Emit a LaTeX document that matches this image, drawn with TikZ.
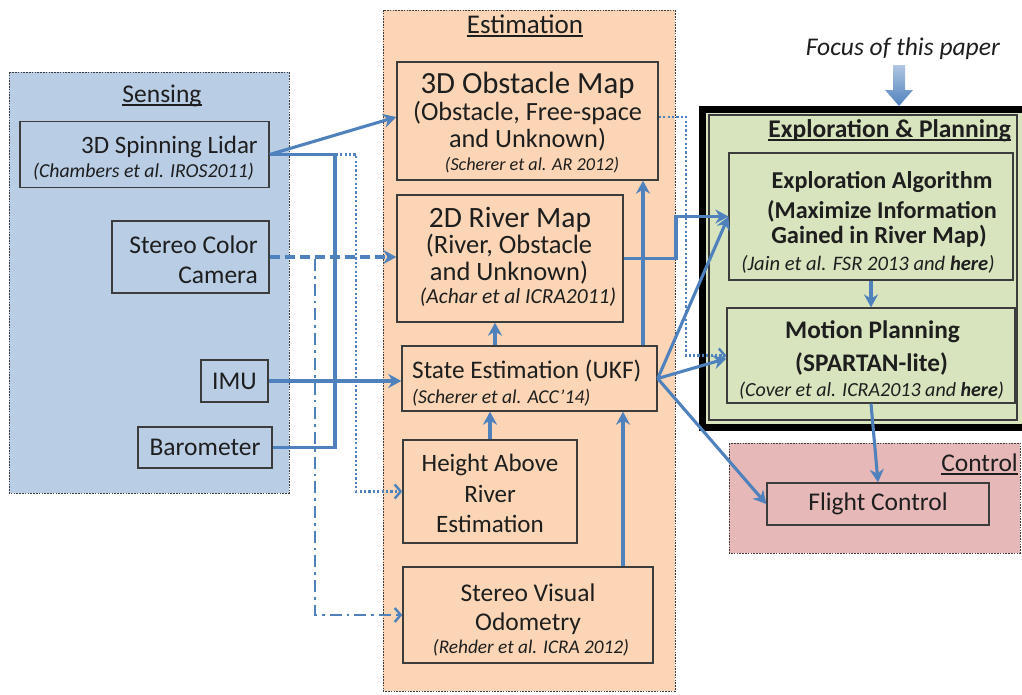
\documentclass[tikz,border=0pt]{standalone}
\usepackage{fontspec}
\setmainfont{Carlito}
\usetikzlibrary{arrows.meta}
\definecolor{sensfill}{HTML}{B9CDE5}
\definecolor{estfill}{HTML}{FBD5B5}
\definecolor{explfill}{HTML}{D7E4BD}
\definecolor{ctrlfill}{HTML}{E6B9B8}
\definecolor{arrc}{HTML}{4F81BD}
\definecolor{boxc}{HTML}{3C3C3C}
\definecolor{txtc}{HTML}{1E1E1E}
\newcommand\fsz[1]{\fontsize{#1}{#1}\selectfont}
\begin{document}
\begin{tikzpicture}[x=1pt,y=-1pt,
  grp/.style={draw=boxc, line width=0.9pt, dash pattern=on 1.6pt off 1.2pt},
  box/.style={draw=boxc, line width=1.4pt, inner sep=0pt, text=txtc, font=\fsz{25.5}},
  txt/.style={inner sep=0pt, text=txtc},
  ln/.style={draw=arrc, line width=3.1pt},
  arr/.style={draw=arrc, line width=3.1pt, -{Stealth[length=13pt,width=14pt]}},
  dotarr/.style={draw=arrc, line width=2.4pt, dash pattern=on 2.2pt off 2.2pt, -{Straight Barb[length=6pt,width=14pt,line width=2.4pt]}},
  dasharr/.style={draw=arrc, line width=3.1pt, dash pattern=on 10pt off 5pt, -{Stealth[length=13pt,width=14pt]}},
  dotdasharr/.style={draw=arrc, line width=2.7pt, dash pattern=on 12pt off 5pt on 2.7pt off 5pt, -{Straight Barb[length=6pt,width=14pt,line width=2.4pt]}},
  uline/.style={draw=txtc, line width=1.1pt}
]
\useasboundingbox (0,0) rectangle (1022,694);

% containers
\draw[grp, fill=sensfill] (9,72) rectangle (289,493);
\draw[grp, fill=estfill] (383,10) rectangle (675,691);
\draw[line width=7pt, draw=black, fill=explfill] (702,109) rectangle (1036,427);
\draw[draw=boxc, line width=1.2pt] (709,115) rectangle (1017,420);
\draw[grp, fill=ctrlfill] (729,443) rectangle (1020,553);

% container labels
\node[txt, anchor=base, font=\fsz{25.5}] (senslbl) at (162,102) {Sensing};
\draw[uline] ([yshift=-3pt]senslbl.base west) -- ([yshift=-3pt]senslbl.base east);
\node[txt, anchor=base, font=\fsz{27}] (estlbl) at (525,33) {Estimation};
\draw[uline] ([yshift=-3pt]estlbl.base west) -- ([yshift=-3pt]estlbl.base east);
\node[txt, anchor=base east, font=\fsz{25.5}\bfseries] (expllbl) at (1011,137) {Exploration \& Planning};
\draw[uline, line width=1.4pt] ([yshift=-3pt]expllbl.base west) -- ([yshift=-3pt]expllbl.base east);
\node[txt, anchor=base east, font=\fsz{25.5}] (ctrllbl) at (1018,471) {Control};
\draw[uline] ([yshift=-3pt]ctrllbl.base west) -- ([yshift=-3pt]ctrllbl.base east);
\node[txt, anchor=base east, font=\fsz{25.5}\itshape] (focus) at (1000,55) {Focus of this paper};
\shade[top color=arrc!45, bottom color=arrc] (893,65) -- (905,65) -- (905,90) -- (913,90) -- (899,106) -- (885,90) -- (893,90) -- cycle;

% sensing boxes
\node[box, fill=sensfill, minimum width=249pt, minimum height=66pt] (lidar) at (144.5,154.5) {};
\node[txt, anchor=base east, font=\fsz{25}] (lidar1) at (258,153) {3D Spinning Lidar};
\node[txt, anchor=base east, font=\fsz{19.8}\itshape] (lidar2) at (254,177) {(Chambers et al. IROS2011)};
\node[box, fill=sensfill, minimum width=157pt, minimum height=72pt] (cam) at (190.5,257) {};
\node[txt, anchor=base east, font=\fsz{25.5}] (cam1) at (258,253) {Stereo Color};
\node[txt, anchor=base east, font=\fsz{25.5}] (cam2) at (258,283) {Camera};
\node[box, fill=sensfill, minimum width=67pt, minimum height=42pt] (imu) at (234.5,381) {IMU};
\node[box, fill=sensfill, minimum width=134pt, minimum height=41pt] (baro) at (205,447.5) {Barometer};

% estimation boxes
\node[box, fill=estfill, minimum width=261pt, minimum height=118pt] (obs) at (527.5,121) {};
\node[txt, anchor=base, font=\fsz{30.8}] (obs1) at (527.5,93) {3D Obstacle Map};
\node[txt, anchor=base, font=\fsz{26.3}] (obs2) at (527.5,120) {(Obstacle, Free-space};
\node[txt, anchor=base, font=\fsz{26.3}] (obs3) at (527.5,147) {and Unknown)};
\node[txt, anchor=base, font=\fsz{18.2}\itshape] (obs4) at (532,170) {(Scherer et al. AR 2012)};

\node[box, fill=estfill, minimum width=226pt, minimum height=127pt] (river) at (510,258.5) {};
\node[txt, anchor=base, font=\fsz{29.5}] (river1) at (510,227) {2D River Map};
\node[txt, anchor=base, font=\fsz{26.5}] (river2) at (509,253) {(River, Obstacle};
\node[txt, anchor=base, font=\fsz{26.5}] (river3) at (509,280) {and Unknown)};
\node[txt, anchor=base, font=\fsz{21.5}\itshape] (river4) at (518,303) {(Achar et al ICRA2011)};

\node[box, fill=estfill, minimum width=255pt, minimum height=65pt] (state) at (529.5,378.5) {};
\node[txt, anchor=base west, font=\fsz{25.3}] (state1) at (412,378) {State Estimation (UKF)};
\node[txt, anchor=base west, font=\fsz{19.6}\itshape] (state2) at (412,403) {(Scherer et al. ACC'14)};

\node[box, fill=estfill, minimum width=174pt, minimum height=103pt] (height) at (490,491.5) {};
\node[txt, anchor=base, font=\fsz{25}] (height1) at (490,471) {Height Above};
\node[txt, anchor=base, font=\fsz{25}] (height2) at (490,502) {River};
\node[txt, anchor=base, font=\fsz{25}] (height3) at (490,532) {Estimation};

\node[box, fill=estfill, minimum width=250pt, minimum height=96pt] (svo) at (528,615) {};
\node[txt, anchor=base, font=\fsz{25.5}] (svo1) at (528,601) {Stereo Visual};
\node[txt, anchor=base, font=\fsz{25.5}] (svo2) at (528,630) {Odometry};
\node[txt, anchor=base, font=\fsz{19.3}\itshape] (svo3) at (531,653) {(Rehder et al. ICRA 2012)};

% exploration boxes
\node[box, fill=explfill, line width=1.2pt, minimum width=284pt, minimum height=127pt] (expl) at (871,216.5) {};
\node[txt, anchor=base, font=\fsz{24.2}\bfseries] (expl1) at (882,188) {Exploration Algorithm};
\node[txt, anchor=base, font=\fsz{24.2}\bfseries] (expl2) at (882,218) {(Maximize Information};
\node[txt, anchor=base, font=\fsz{24.6}\bfseries] (expl3) at (879,243) {Gained in River Map)};
\node[txt, anchor=base, font=\fsz{20.6}\itshape] (expl4) at (868,270) {(Jain et al. FSR 2013 and \textbf{here})};

\node[box, fill=explfill, line width=1.2pt, minimum width=288pt, minimum height=95pt] (motion) at (871,355.5) {};
\node[txt, anchor=base, font=\fsz{25.3}\bfseries] (motion1) at (872.5,338) {Motion Planning};
\node[txt, anchor=base, font=\fsz{25.3}\bfseries] (motion2) at (871.5,371) {(SPARTAN-lite)};
\node[txt, anchor=base, font=\fsz{20}\itshape] (motion3) at (871.5,396) {(Cover et al. ICRA2013 and \textbf{here})};

% control
\node[box, fill=ctrlfill, minimum width=222pt, minimum height=42pt] (flight) at (878,504) {Flight Control};

% connectors from sensing
\coordinate (vx) at (335,381);
\draw[ln] (lidar.east) -| (vx);
\draw[ln] (baro.east) -| (vx);
\draw[arr, line width=4.2pt] (imu.east) -- (imu.east -| state.west);
\draw[arr] (lidar.east) -- ([yshift=4pt]obs.west);
\coordinate (dv) at (356,0);
\draw[dotarr] (lidar.east) -| (dv |- height.west) -- (height.west);
\draw[dasharr] (cam.east) -- (cam.east -| river.west);
\coordinate (dd) at (315,259);
\draw[dotdasharr] (dd) |- (svo.west);

% estimation internal
\draw[arr] ([xshift=-34.5pt]state.north) -- ([xshift=-15pt]river.south);
\draw[arr] (height.north) -- (height.north |- state.south);
\coordinate (s8) at ([xshift=95pt]svo.north);
\draw[arr] (s8) -- (s8 |- state.south);
\coordinate (s9) at ([xshift=113.5pt]state.north);
\draw[arr] (s9) -- (s9 |- obs.south);

% to exploration & planning
\coordinate (k10) at (676,0);
\draw[arr] (river.east) -| (k10 |- expl.west) -- (expl.west);
\coordinate (k11) at (686,0);
\draw[dotarr] ([yshift=4pt]obs.east) -| (k11 |- motion.west) -- (motion.west);
\draw[arr] (state.east) -- (expl.west);
\draw[arr] (state.east) -- ([yshift=-3pt]motion.west);
\draw[arr] (state.east) -- (flight.west);
\draw[arr] (expl.south) -- (motion.north);
\draw[arr] (motion.south) -- (flight.north);
\end{tikzpicture}
\end{document}
